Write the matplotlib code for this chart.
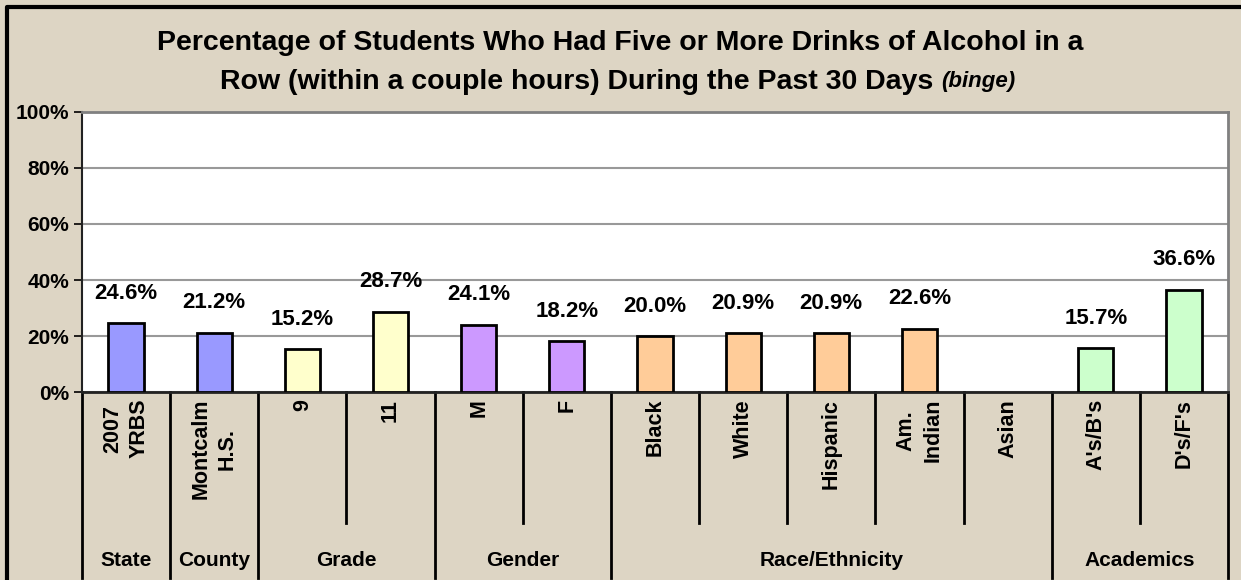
import matplotlib.pyplot as plt
from matplotlib.lines import Line2D

plt.rcParams['font.family'] = ['Liberation Sans', 'DejaVu Sans']

labels = ['2007\nYRBS', 'Montcalm\nH.S.', '9', '11', 'M', 'F', 'Black', 'White',
          'Hispanic', 'Am.\nIndian', 'Asian', "A's/B's", "D's/F's"]
values = [24.6, 21.2, 15.2, 28.7, 24.1, 18.2, 20.0, 20.9, 20.9, 22.6, None, 15.7, 36.6]
groups = ['State', 'County', 'Grade', 'Gender', 'Race/Ethnicity', 'Academics']
group_sizes = [1, 1, 2, 2, 5, 2]
group_colors = ['#9999FF', '#9999FF', '#FFFFCC', '#CC99FF', '#FFCC99', '#CCFFCC']

bg = '#DDD5C4'
fig = plt.figure(figsize=(12.41, 5.8), dpi=100, facecolor=bg)
W, H = 1241, 580
ax = fig.add_axes([82 / W, 1 - 392 / H, (1228 - 82) / W, (392 - 112) / H])
ax.set_facecolor('white')

colors = []
for c, n in zip(group_colors, group_sizes):
    colors += [c] * n

xs = list(range(len(labels)))
for x, v, c in zip(xs, values, colors):
    if v is None:
        continue
    ax.bar(x, v, width=0.4, color=c, edgecolor='black', linewidth=2, zorder=3)
    ax.annotate(f'{v:.1f}%', (x, v), xytext=(0, 14), textcoords='offset points',
                ha='center', va='bottom', fontsize=16, fontweight='bold')

ax.set_xlim(-0.5, len(labels) - 0.5)
ax.set_ylim(0, 100)
ax.set_yticks([0, 20, 40, 60, 80, 100])
ax.set_yticklabels([f'{t}%' for t in range(0, 101, 20)], fontsize=15, fontweight='bold')
ax.tick_params(axis='y', direction='out', length=6, width=1.2, pad=3)
ax.yaxis.grid(True, color='#999999', linewidth=1.5, zorder=0)
ax.set_axisbelow(True)
for s in ['top', 'right']:
    ax.spines[s].set_color('#808080')
    ax.spines[s].set_linewidth(2)
ax.spines['left'].set_color('#222222')
ax.spines['left'].set_linewidth(1.5)
ax.spines['bottom'].set_color('#222222')
ax.spines['bottom'].set_linewidth(2)

ax.set_xticks(xs)
ax.set_xticklabels(labels, rotation=90, fontsize=15.5, fontweight='bold',
                   va='top', ha='center', multialignment='center', linespacing=1.35)
ax.tick_params(axis='x', length=0, pad=5)

# dividers below the axis
trans = ax.get_xaxis_transform()
bounds = [0]
for n in group_sizes:
    bounds.append(bounds[-1] + n)
inner_bottom = -(523 - 392) / (392 - 112)
outer_bottom = -(578 - 392) / (392 - 112)
for i in range(len(labels) + 1):
    y1 = outer_bottom if i in bounds else inner_bottom
    ax.add_line(Line2D([i - 0.5, i - 0.5], [0, y1], transform=trans, color='black',
                       linewidth=2, clip_on=False))
label_y = -(560 - 392) / (392 - 112)
for g, a, b in zip(groups, bounds[:-1], bounds[1:]):
    ax.text((a + b) / 2 - 0.5, label_y, g, transform=trans, ha='center', va='center',
            fontsize=15, fontweight='bold')

fig.text(620 / W, 1 - 43 / H, 'Percentage of Students Who Had Five or More Drinks of Alcohol in a',
         ha='center', va='center', fontsize=20.5, fontweight='bold')
t2 = fig.text(220 / W, 1 - 82 / H, 'Row (within a couple hours) During the Past 30 Days ',
              ha='left', va='center', fontsize=20.5, fontweight='bold')
fig.canvas.draw()
bb = t2.get_window_extent()
fig.text(bb.x1 / W, 1 - 82 / H, '(binge)', ha='left', va='center', fontsize=16,
         fontweight='bold', style='italic')

fig.add_artist(Line2D([7 / W, 7 / W, 1], [0, 1 - 7 / H, 1 - 7 / H], transform=fig.transFigure,
                      color='black', linewidth=3))

fig.savefig('out.png', dpi=100, facecolor=bg)
